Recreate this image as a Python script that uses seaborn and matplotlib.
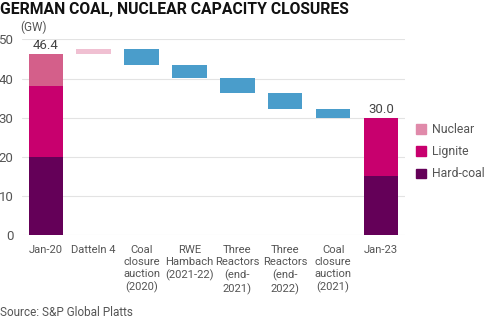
import matplotlib
matplotlib.use("Agg")
import matplotlib.pyplot as plt
from matplotlib.patches import Patch
import seaborn as sns
import pandas as pd

# Capacity data (GW)
steps = ["Jan-20", "Datteln 4", "Coal closure auction (2020)", "RWE Hambach (2021-22)",
         "Three Reactors (end-2021)", "Three Reactors (end-2022)",
         "Coal closure auction (2021)", "Jan-23"]
tick_labels = ["Jan-20", "Datteln 4", "Coal\nclosure\nauction\n(2020)", "RWE\nHambach\n(2021-22)",
               "Three\nReactors\n(end-\n2021)", "Three\nReactors\n(end-\n2022)",
               "Coal\nclosure\nauction\n(2021)", "Jan-23"]

hard_coal = [20.0, 15.0]      # Jan-20, Jan-23
lignite = [18.0, 15.0]        # Jan-20, Jan-23
nuclear = [8.4, 0.0]          # Jan-20, Jan-23
totals = [46.4, 30.0]
datteln_add = 1.1
closures = [4.1, 3.2, 4.0, 4.1, 2.1]

c_hard = "#640058"
c_lig = "#c8006e"
c_nuc = "#d45f8a"
c_add = "#f0c0d2"
c_cut = "#4a9dcb"
grey = "#555555"

sns.set_theme(style="white")
plt.rcParams["font.family"] = ["Roboto", "DejaVu Sans"]

fig = plt.figure(figsize=(4.85, 3.21), dpi=100)
ax = fig.add_axes([0.045, 0.268, 0.79, 0.609])

W = 0.72

def seg(xs, lows, heights, color):
    df = pd.DataFrame({"step": xs, "h": heights})
    sns.barplot(data=df, x="step", y="h", order=steps, color=color, width=W,
                bottom=lows, errorbar=None, saturation=1, linewidth=0, ax=ax, zorder=3)

ends = [steps[0], steps[-1]]
seg(ends, [0, 0], hard_coal, c_hard)
seg(ends, hard_coal, lignite, c_lig)
seg([steps[0]], [hard_coal[0] + lignite[0]], [nuclear[0]], c_nuc)

# Datteln 4 addition
seg([steps[1]], [totals[0]], [datteln_add], c_add)

# Closures as floating bars
level = totals[0] + datteln_add
lows, tops = [], []
for c in closures:
    lows.append(level - c)
    tops.append(c)
    level -= c
seg(steps[2:7], lows, tops, c_cut)

# Totals above end bars
for i, t in zip([0, 7], totals):
    ax.text(i, t + 0.5, f"{t:.1f}", ha="center", va="bottom", fontsize=9.5, color="#444444")

ax.set_xlim(-0.5, 7.5)
ax.set_ylim(0, 50)
ax.set_yticks([0, 10, 20, 30, 40, 50])
ax.yaxis.grid(True, color="#e3e3e3", linewidth=0.8, zorder=0)
ax.set_axisbelow(True)
for s in ax.spines.values():
    s.set_visible(False)
ax.set_xlabel("")
ax.set_ylabel("")
ax.set_xticks(range(len(steps)))
ax.set_xticklabels(tick_labels, fontsize=8.1, color=grey, linespacing=1.27)
ax.tick_params(axis="x", length=0, pad=7)
ax.tick_params(axis="y", length=0, pad=6, labelsize=9.5, labelcolor=grey)

fig.text(0.042, 0.895, "(GW)", fontsize=8.5, color=grey, ha="left", va="bottom")
fig.text(0.0, 0.995, "GERMAN COAL, NUCLEAR CAPACITY CLOSURES", fontsize=11.3,
         fontweight="bold", color="#111111", ha="left", va="top")
fig.text(0.0, 0.005, "Source: S&P Global Platts", fontsize=8.5, color=grey,
         ha="left", va="bottom")

handles = [Patch(color="#e08aaa", label="Nuclear"),
           Patch(color=c_lig, label="Lignite"),
           Patch(color=c_hard, label="Hard-coal")]
fig.legend(handles=handles, loc="center left", bbox_to_anchor=(0.853, 0.527), frameon=False,
           fontsize=8.8, labelcolor=grey, handlelength=0.8, handleheight=0.8,
           handletextpad=0.5, labelspacing=0.75, borderaxespad=0, borderpad=0.2)

fig.savefig("out.png", dpi=100)
